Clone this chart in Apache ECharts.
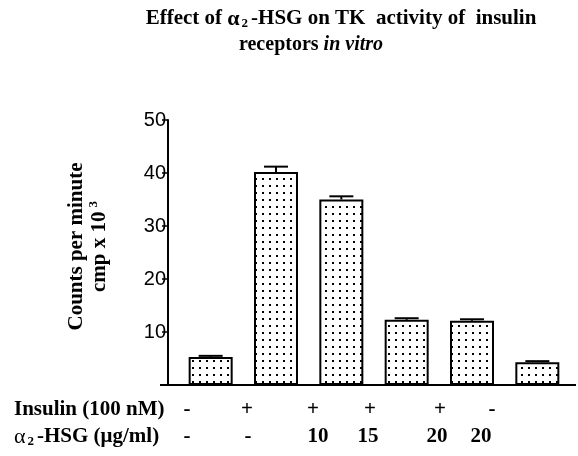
<!DOCTYPE html>
<html>
<head>
<meta charset="utf-8">
<script src="https://cdn.jsdelivr.net/npm/echarts@6/dist/echarts.min.js"></script>
<style>
  html, body { margin: 0; padding: 0; background: #fff; }
  #chart { width: 578px; height: 456px; }
</style>
</head>
<body>
<div id="chart"></div>
<script>
// data
const categories = ['Control', 'Insulin', 'Insulin + α2-HSG 10', 'Insulin + α2-HSG 15', 'Insulin + α2-HSG 20', 'α2-HSG 20'];
const counts = [5.3, 40.2, 35.0, 12.3, 12.1, 4.3];
const errors = [0.2, 1.0, 0.6, 0.3, 0.3, 0.2];
const insulinRow = ['-', '+', '+', '+', '+', '-'];
const hsgRow = ['-', '-', '10', '15', '20', '20'];
const yTicks = [0, 10, 20, 30, 40, 50];

// layout of the treatment table under the axis
const row1X = [187, 247, 313, 370, 440, 492];
const row2X = [187, 248, 318, 368, 437, 481];
const rowY = [410, 437];

const serif = '"Liberation Serif", "Times New Roman", serif';
const sans = '"Liberation Sans", Arial, sans-serif';

// dotted fill
const pat = document.createElement('canvas');
pat.width = 7; pat.height = 7;
const ctx = pat.getContext('2d');
ctx.fillStyle = '#fff'; ctx.fillRect(0, 0, 7, 7);
ctx.fillStyle = '#000'; ctx.fillRect(3, 3, 2, 2);

const myChart = echarts.init(document.getElementById('chart'));

const option = {
  backgroundColor: '#fff',
  animation: false,
  title: [
    {
      text: 'Effect of {a|α}{s|2}-HSG on TK  activity of  insulin',
      left: 336, top: 3, textAlign: 'center',
      textStyle: {
        fontFamily: serif, fontWeight: 'bold', fontSize: 21, color: '#000',
        rich: {
          a: { fontFamily: serif, fontSize: 22, color: '#000' },
          s: { fontFamily: serif, fontWeight: 'bold', fontSize: 13, color: '#000', padding: [9, 3, 0, 2] }
        }
      }
    },
    {
      text: 'receptors {i|in vitro}',
      left: 306, top: 30, textAlign: 'center',
      textStyle: {
        fontFamily: serif, fontWeight: 'bold', fontSize: 20, color: '#000',
        rich: { i: { fontFamily: serif, fontWeight: 'bold', fontStyle: 'italic', fontSize: 20, color: '#000' } }
      }
    }
  ],
  grid: { left: 178, right: 8, top: 120, bottom: 71 },
  xAxis: {
    type: 'category',
    data: categories,
    axisLine: { show: false },
    axisTick: { show: false },
    axisLabel: { show: false }
  },
  yAxis: {
    type: 'value',
    min: yTicks[0], max: yTicks[yTicks.length - 1], interval: 10,
    offset: 10,
    splitLine: { show: false },
    axisLine: { show: true, lineStyle: { color: '#000', width: 2 } },
    axisTick: { show: true, length: 6, lineStyle: { color: '#000', width: 1.5 } },
    axisLabel: {
      margin: 2, color: '#000', fontFamily: sans, fontSize: 20,
      formatter: v => (v === 0 ? '' : String(v))
    },
    name: 'Counts per minute\ncmp x 10{sup|3}',
    nameLocation: 'middle', nameRotate: 90, nameGap: 57,
    nameTextStyle: {
      fontFamily: serif, fontWeight: 'bold', fontSize: 21, color: '#000', lineHeight: 23,
      padding: [0, 0, 0, 12],
      rich: { sup: { fontFamily: serif, fontWeight: 'bold', fontSize: 13, color: '#000', padding: [0, 0, 11, 4] } }
    }
  },
  series: [
    {
      type: 'bar',
      data: counts,
      barWidth: 44,
      itemStyle: { color: { image: pat, repeat: 'repeat' }, borderColor: '#000', borderWidth: 2 }
    },
    {
      type: 'custom',
      data: counts.map((v, i) => [i, v, errors[i]]),
      renderItem: (params, api) => {
        const i = api.value(0), v = api.value(1), e = api.value(2);
        const base = api.coord([i, v]);
        const top = api.coord([i, v + e]);
        return {
          type: 'group',
          children: [
            { type: 'line', shape: { x1: base[0], y1: base[1], x2: top[0], y2: top[1] }, style: { stroke: '#000', lineWidth: 2 } },
            { type: 'line', shape: { x1: top[0] - 12, y1: top[1], x2: top[0] + 12, y2: top[1] }, style: { stroke: '#000', lineWidth: 2 } }
          ]
        };
      },
      z: 3
    }
  ]
};

myChart.setOption(option);

// baseline and the treatment table
const y0 = myChart.convertToPixel({ yAxisIndex: 0 }, 0);
const cellFont = 'bold 21px ' + serif;
const graphics = [
  { type: 'line', shape: { x1: 160, y1: y0, x2: 576, y2: y0 }, style: { stroke: '#000', lineWidth: 2 } },
  { type: 'text', x: 14, y: rowY[0], style: { text: 'Insulin (100 nM)', font: cellFont, fill: '#000', verticalAlign: 'middle' } },
  { type: 'text', x: 14, y: rowY[1], style: {
      text: '{a|α}{s|2}-HSG (μg/ml)', font: cellFont, fill: '#000', verticalAlign: 'middle',
      rich: {
        a: { font: '22px ' + serif, fill: '#000' },
        s: { font: 'bold 13px ' + serif, fill: '#000', padding: [9, 3, 0, 2] }
      }
  } }
];
insulinRow.forEach((t, i) => {
  graphics.push({ type: 'text', x: row1X[i], y: rowY[0], style: { text: t, font: cellFont, fill: '#000', align: 'center', verticalAlign: 'middle' } });
});
hsgRow.forEach((t, i) => {
  graphics.push({ type: 'text', x: row2X[i], y: rowY[1], style: { text: t, font: cellFont, fill: '#000', align: 'center', verticalAlign: 'middle' } });
});
myChart.setOption({ graphic: graphics });
</script>
</body>
</html>
